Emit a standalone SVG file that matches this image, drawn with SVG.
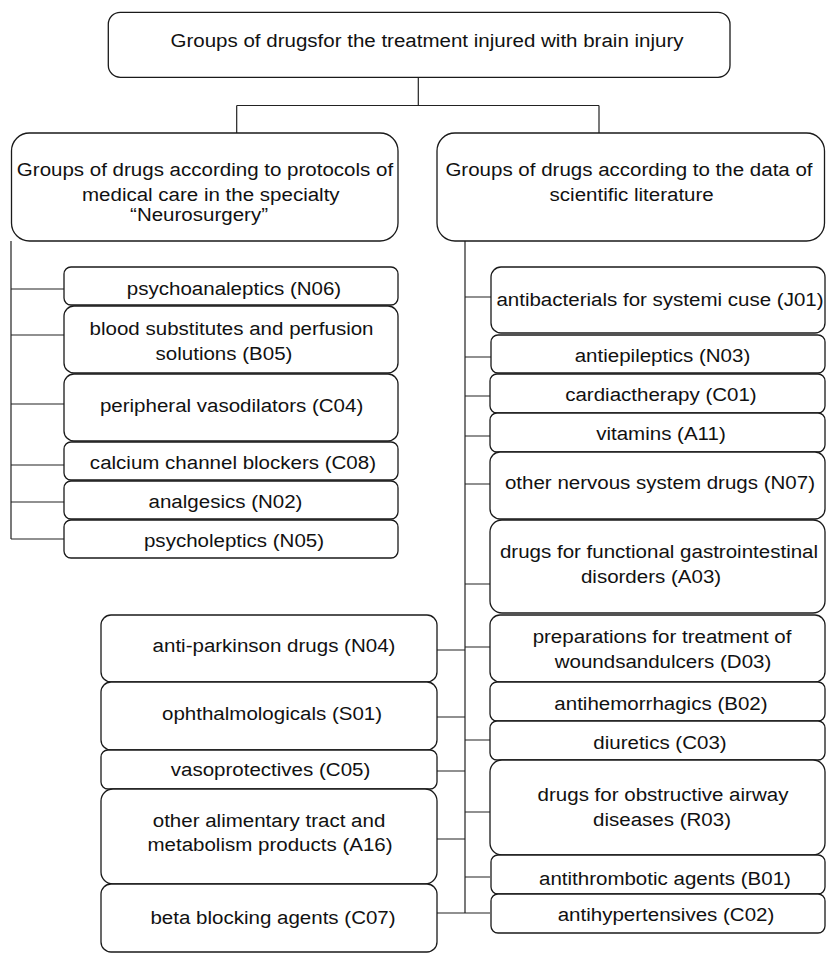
<svg xmlns="http://www.w3.org/2000/svg" width="826" height="953" viewBox="0 0 826 953">
<style>
.box{fill:#fff;stroke:#1a1a1a;stroke-width:1.3}
.ln{fill:none;stroke:#222;stroke-width:1.2}
text{font-family:"Liberation Sans",Arial,sans-serif;font-size:19px;fill:#111;text-anchor:middle}
</style>
<rect width="826" height="953" fill="#fff"/>
<g id="connectors" class="ln">
<path d="M418.3,77V105.5M236.7,105.5H599M236.7,105.5V133M599,105.5V133"/>
<path d="M11,241V539M11,289H64M11,335H64M11,404H64M11,465H64M11,502H64M11,539H64"/>
<path d="M465,241V913M465,297H491M465,357H491M465,396H491M465,436H491M465,484H491M465,584H491M465,647H490M465,740H490M465,812H490M465,877H490M465,913H490"/>
<path d="M437,650H465M437,717H465M437,771H465M437,839H465M437,913H465"/>
</g>
<g id="root"><rect class="box" x="108.3" y="12.3" width="621.7" height="65" rx="12"/></g>
<g id="protocols"><rect class="box" x="11.5" y="133" width="386.5" height="108" rx="18"/></g>
<g id="literature"><rect class="box" x="437" y="133" width="387.5" height="108" rx="18"/></g>
<g id="n06"><rect class="box" x="64" y="267" width="334" height="38" rx="7"/></g>
<g id="b05"><rect class="box" x="64" y="306" width="334" height="67" rx="10"/></g>
<g id="c04"><rect class="box" x="64" y="374" width="334" height="67" rx="10"/></g>
<g id="c08"><rect class="box" x="64" y="442" width="334" height="38" rx="7"/></g>
<g id="n02"><rect class="box" x="64" y="481" width="334" height="38" rx="7"/></g>
<g id="n05"><rect class="box" x="64" y="520" width="334" height="38" rx="7"/></g>
<g id="j01"><rect class="box" x="491" y="267" width="334" height="66" rx="10"/></g>
<g id="n03"><rect class="box" x="491" y="335" width="334" height="38" rx="7"/></g>
<g id="c01"><rect class="box" x="490" y="374" width="335" height="39" rx="7"/></g>
<g id="a11"><rect class="box" x="490" y="413" width="335" height="39" rx="7"/></g>
<g id="n07"><rect class="box" x="490" y="452" width="335" height="67" rx="10"/></g>
<g id="a03"><rect class="box" x="490" y="520" width="335" height="93" rx="12"/></g>
<g id="d03"><rect class="box" x="490" y="615" width="335" height="67" rx="10"/></g>
<g id="b02"><rect class="box" x="490" y="682" width="335" height="39" rx="7"/></g>
<g id="c03"><rect class="box" x="490" y="721" width="335" height="39" rx="7"/></g>
<g id="r03"><rect class="box" x="490" y="760" width="335" height="95" rx="12"/></g>
<g id="b01"><rect class="box" x="491" y="855" width="334" height="39" rx="7"/></g>
<g id="c02"><rect class="box" x="491" y="894" width="334" height="39" rx="7"/></g>
<g id="n04"><rect class="box" x="101" y="615" width="336" height="67" rx="10"/></g>
<g id="s01"><rect class="box" x="101" y="682" width="336" height="68" rx="10"/></g>
<g id="c05"><rect class="box" x="101" y="750" width="336" height="39" rx="7"/></g>
<g id="a16"><rect class="box" x="101" y="789" width="336" height="95" rx="12"/></g>
<g id="c07"><rect class="box" x="101" y="884" width="336" height="68" rx="10"/></g>
<g id="labels" transform="scale(1.08,1)">
<text x="395.4" y="47.5">Groups of drugsfor  the treatment injured with brain injury</text>
<text x="189.8" y="176.5">Groups of drugs according  to protocols of</text>
<text x="195.2" y="201.5">medical  care in the specialty</text>
<text x="184.3" y="221">“Neurosurgery”</text>
<text x="582.4" y="176">Groups  of drugs according to the data of</text>
<text x="584.9" y="201.5">scientific literature</text>
<text x="216.7" y="295">psychoanaleptics (N06)</text>
<text x="214.4" y="335">blood substitutes and perfusion</text>
<text x="207.4" y="360">solutions (B05)</text>
<text x="214.4" y="412">peripheral  vasodilators (C04)</text>
<text x="215.7" y="469">calcium  channel blockers (C08)</text>
<text x="208.8" y="508">analgesics (N02)</text>
<text x="216.7" y="547">psycholeptics (N05)</text>
<text x="611.1" y="306">antibacterials for systemi cuse (J01)</text>
<text x="613.4" y="362">antiepileptics (N03)</text>
<text x="612" y="401.5">cardiactherapy (C01)</text>
<text x="612" y="440">vitamins (A11)</text>
<text x="611.1" y="489">other nervous system drugs (N07)</text>
<text x="610.2" y="558">drugs for functional  gastrointestinal</text>
<text x="602.8" y="583">disorders (A03)</text>
<text x="613" y="643">preparations for treatment of</text>
<text x="613.9" y="668">woundsandulcers (D03)</text>
<text x="612" y="710">antihemorrhagics (B02)</text>
<text x="611.1" y="749">diuretics (C03)</text>
<text x="613.9" y="801.5">drugs for obstructive airway</text>
<text x="613" y="826.5">diseases (R03)</text>
<text x="615.7" y="885.5">antithrombotic agents (B01)</text>
<text x="616.7" y="921.5">antihypertensives (C02)</text>
<text x="253.7" y="652">anti-parkinson drugs (N04)</text>
<text x="251.9" y="720">ophthalmologicals  (S01)</text>
<text x="250.5" y="776.5">vasoprotectives  (C05)</text>
<text x="249.1" y="827.5">other alimentary tract and</text>
<text x="250" y="851.5">metabolism products (A16)</text>
<text x="252.8" y="924">beta blocking agents (C07)</text>
</g>
</svg>
